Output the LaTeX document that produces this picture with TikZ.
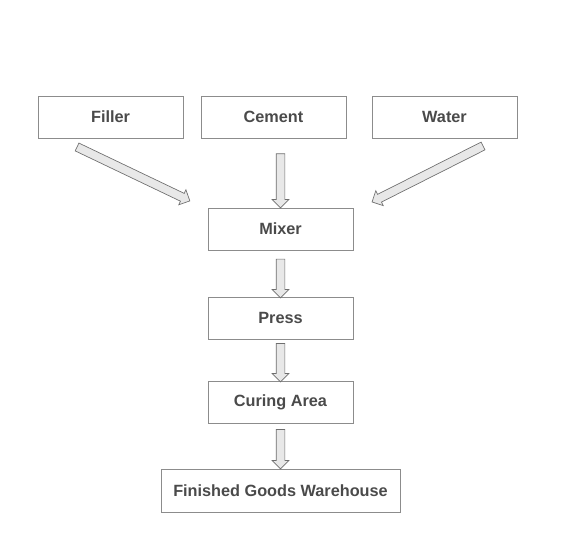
\documentclass[tikz,border=0pt]{standalone}
\usepackage{fontspec}
\setmainfont{Liberation Sans}
\usetikzlibrary{calc,shapes.arrows}
\definecolor{boxline}{HTML}{8C8C8C}
\definecolor{boxtext}{HTML}{4A4A4A}
\definecolor{arrowfill}{HTML}{E8E8E8}
\definecolor{arrowline}{HTML}{6E6E6E}
\newcommand{\blockarrow}[2]{%
  \path let \p1=($(#2)-(#1)$), \n1={veclen(\x1,\y1)}, \n2={atan2(\y1,\x1)} in
    node[flowarrow,minimum height=\n1,rotate=\n2] at ($(#1)!0.5!(#2)$) {};}
\begin{document}
\begin{tikzpicture}[x=0.75pt,y=-0.75pt,
    stage/.style={draw=boxline,text=boxtext,font=\fontsize{12.2}{14}\bfseries,
      minimum width=108.75pt,minimum height=31.5pt,inner sep=0pt},
    flowarrow/.style={single arrow,draw=arrowline,fill=arrowfill,
      inner sep=3pt,single arrow head extend=3pt,line width=0.5pt}]
    \useasboundingbox (0,0) rectangle (561,552);
    % raw materials
    \node[stage] (filler) at (110.5,117) {Filler};
    \node[stage] (cement) at (273.5,117) {Cement};
    \node[stage] (water)  at (444.5,117) {Water};
    % process line
    \node[stage] (mixer)  at (280.5,229) {Mixer};
    \node[stage] (press)  at (280.5,318) {Press};
    \node[stage] (curing) at (280.5,402) {Curing Area};
    \node[stage,minimum width=179.25pt,minimum height=32.25pt] (store)
      at (280.5,490.5) {Finished Goods Warehouse};
    % arrow ends
    \coordinate (fillerA) at (75,146);
    \coordinate (fillerB) at (188,200);
    \coordinate (waterA)  at (485,145);
    \coordinate (waterB)  at (374,201);
    \coordinate (cementA) at ([yshift=-10pt]cement.south -| mixer.south);
    \coordinate (cementB) at ([yshift=1.5pt]mixer.north);
    \coordinate (mixerA)  at ([yshift=-5pt]mixer.south);
    \coordinate (pressB)  at ([yshift=0.75pt]press.north);
    \coordinate (pressA)  at ([yshift=-1.5pt]press.south);
    \coordinate (curingB) at ([yshift=0.75pt]curing.north);
    \coordinate (curingA) at ([yshift=-3pt]curing.south);
    \coordinate (storeB)  at ([yshift=1.5pt]store.north);
    % arrows
    \blockarrow{fillerA}{fillerB}
    \blockarrow{waterA}{waterB}
    \blockarrow{cementA}{cementB}
    \blockarrow{mixerA}{pressB}
    \blockarrow{pressA}{curingB}
    \blockarrow{curingA}{storeB}
  \end{tikzpicture}
\end{document}
